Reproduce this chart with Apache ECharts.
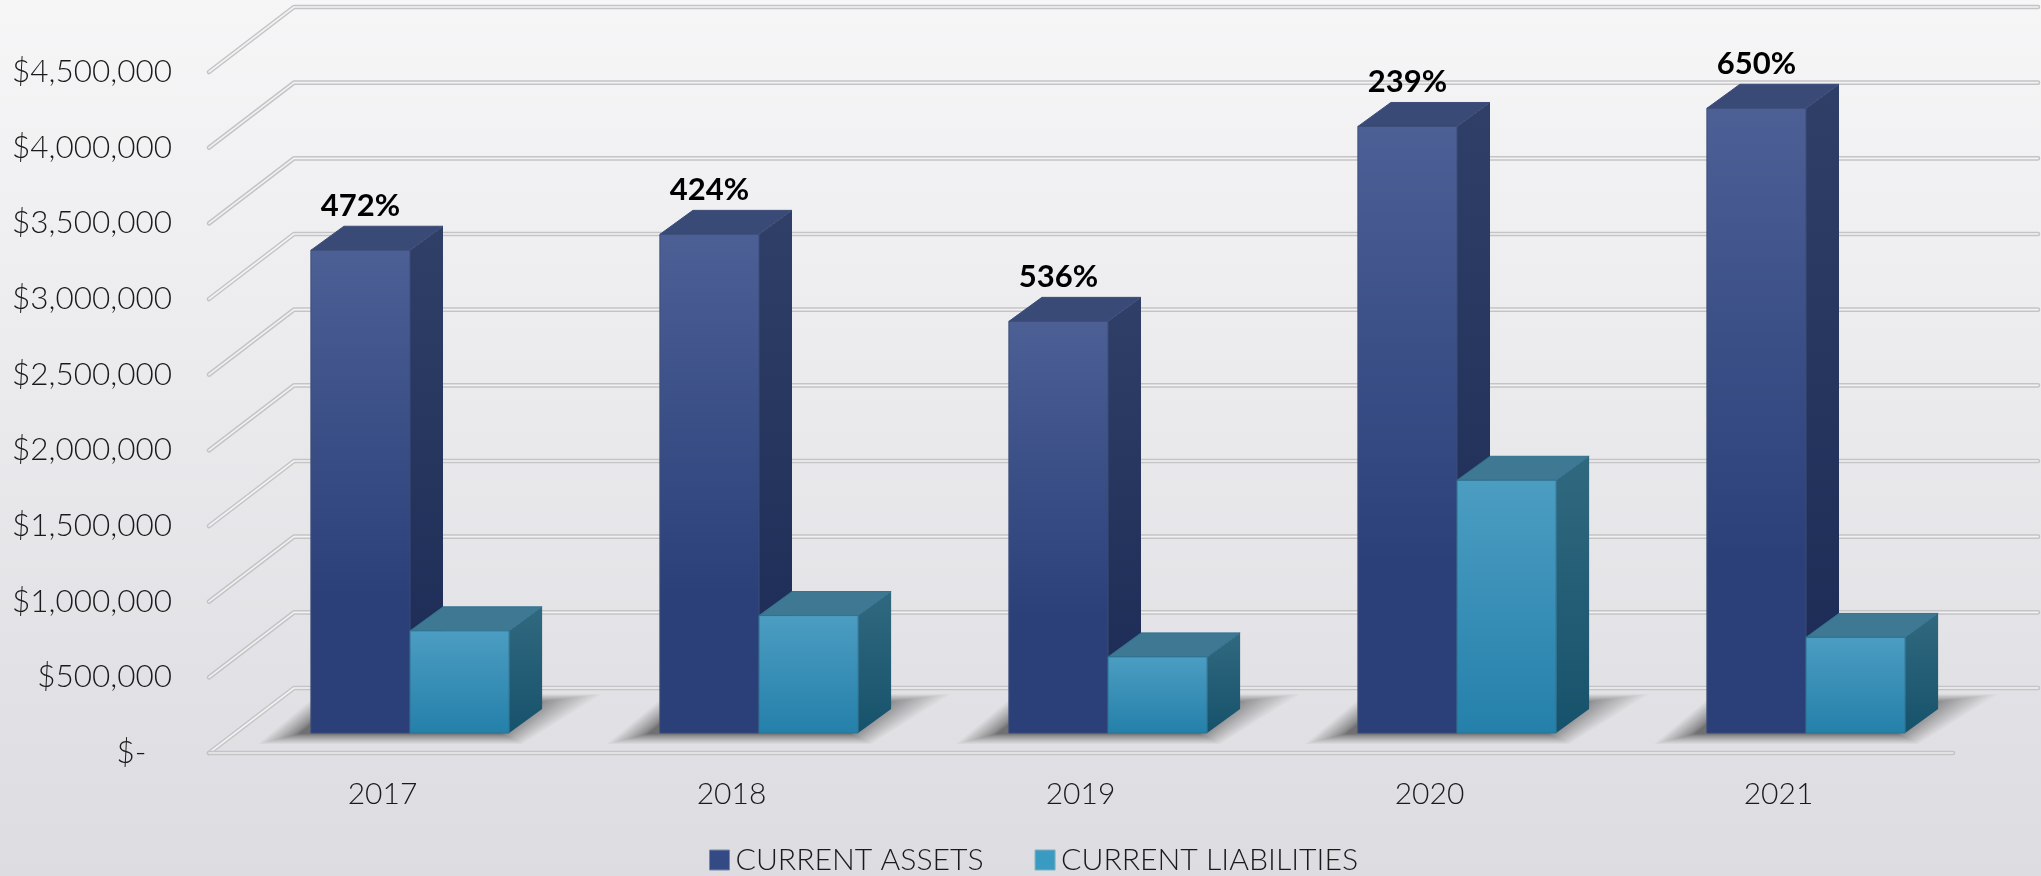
<!DOCTYPE html>
<html>
<head>
<meta charset="utf-8">
<title>Current assets and liabilities</title>
<script src="https://cdn.jsdelivr.net/npm/echarts@6/dist/echarts.min.js"></script>
<style>
  html, body { margin: 0; padding: 0; overflow: hidden; }
  #chart { width: 2041px; height: 876px; }
</style>
</head>
<body>
<div id="chart"></div>
<script>
const years = ['2017', '2018', '2019', '2020', '2021'];
const currentAssets = [3190000, 3295000, 2720000, 4008000, 4128000];
const currentLiabilities = [675000, 776000, 503000, 1670000, 632000];
const ratioLabels = ['472%', '424%', '536%', '239%', '650%'];
const gridTicks = [0, 500000, 1000000, 1500000, 2000000, 2500000, 3000000, 3500000, 4000000, 4500000];

const FONT = 'Lato';
const TEXT = '#1a1a1a';

// oblique projection, all in pixels
const WALL_DX = 86, WALL_DY = 65;   // floor depth
const BAR_DX = 33, BAR_DY = 24;     // bar depth
const BAR_SHIFT_X = 27.5, BAR_SHIFT_Y = 20; // front of bars vs front of floor
const BAR_BAND = 0.284;             // one bar as share of a category
const SHADOW_STEPS = 36;

const vert = (a, b) => ({ type: 'linear', x: 0, y: 0, x2: 0, y2: 1, colorStops: [{ offset: 0, color: a }, { offset: 1, color: b }] });
const vertMid = (a, b, mid) => ({ type: 'linear', x: 0, y: 0, x2: 0, y2: 1, colorStops: [{ offset: 0, color: a }, { offset: mid, color: b }, { offset: 1, color: b }] });

const assetColors = {
  front: vertMid('#4c6096', '#2b3f79', 0.72),
  side: vert('#2f3f67', '#1b2a54'),
  top: '#3a4a76',
  edge: '#3d4d78'
};
const liabilityColors = {
  front: vert('#4c9dc2', '#2480aa'),
  side: vert('#30697f', '#17526c'),
  top: '#3f7893',
  edge: '#2f7290'
};

function poly(points, fill, z2, stroke) {
  return {
    type: 'polygon',
    z2: z2,
    shape: { points: points },
    style: { fill: fill, stroke: stroke || null, lineWidth: stroke ? 1 : 0 }
  };
}

// one 3D box. slot 0 = left bar of the category, slot 1 = right bar
function renderBar(slot, colors, labels) {
  return function (params, api) {
    const idx = api.value(0);
    const top = api.coord([idx, api.value(1)]);
    const base = api.coord([idx, 0]);
    const w = api.size([1, 0])[0] * BAR_BAND;
    const x0 = base[0] + BAR_SHIFT_X - w + slot * w;
    const x1 = x0 + w;
    const yT = top[1] - BAR_SHIFT_Y;
    const yB = base[1] - BAR_SHIFT_Y;
    const children = [
      poly([[x1, yT], [x1 + BAR_DX, yT - BAR_DY], [x1 + BAR_DX, yB - BAR_DY], [x1, yB]], colors.side, 1),
      poly([[x0, yT], [x0 + BAR_DX, yT - BAR_DY], [x1 + BAR_DX, yT - BAR_DY], [x1, yT]], colors.top, 2, colors.edge),
      poly([[x0, yT], [x1, yT], [x1, yB], [x0, yB]], colors.front, 3, colors.edge)
    ];
    if (labels) {
      children.push({
        type: 'text',
        z2: 5,
        x: (x0 + x1) / 2,
        y: yT - 44,
        style: {
          text: labels[idx],
          fill: '#000',
          font: '700 31px ' + FONT,
          align: 'center',
          verticalAlign: 'middle'
        }
      });
    }
    return { type: 'group', children: children };
  };
}

// soft floor shadow: many faint parallelograms, sparse at the rim and dense at the core
function renderShadow(params, api) {
  const base = api.coord([api.value(0), 0]);
  const cx = base[0] + BAR_SHIFT_X;
  const yB = base[1] - BAR_SHIFT_Y;
  const outer = [[-152, 11], [112, 11], [192, -39], [-92, -39]];
  const inner = [[-112, 1], [92, 1], [122, -30], [-74, -30]];
  const children = [];
  for (let k = 0; k < SHADOW_STEPS; k++) {
    const s = 1 - k / (SHADOW_STEPS - 1);
    const t = 1 - s * s;
    children.push({
      type: 'polygon',
      shape: {
        points: outer.map((p, i) => [
          cx + p[0] + (inner[i][0] - p[0]) * t,
          yB + p[1] + (inner[i][1] - p[1]) * t
        ])
      },
      style: { fill: 'rgba(74,74,76,0.036)' }
    });
  }
  return { type: 'group', children: children };
}

// the chart's gridlines are double: two grey rails with a pale gap
function gridStroke(points, light) {
  return [
    { type: 'polyline', shape: { points: points }, style: { fill: null, stroke: '#c4c4c6', lineWidth: 4.6, lineCap: 'round', lineJoin: 'round' } },
    { type: 'polyline', shape: { points: points }, style: { fill: null, stroke: light, lineWidth: 1.6, lineCap: 'round', lineJoin: 'round' } }
  ];
}

function renderGridLine(params, api) {
  const sys = params.coordSys;
  const y = api.coord([0, api.value(1)])[1];
  const backEnd = sys.x + sys.width + WALL_DX - 1;
  let children = gridStroke([[sys.x + 1, y], [sys.x + WALL_DX, y - WALL_DY], [backEnd, y - WALL_DY]], '#f2f2f3');
  if (api.value(1) === 0) {
    // front edge of the floor
    children = children.concat(gridStroke([[sys.x + 1, y], [sys.x + sys.width, y]], '#ececee'));
  }
  return { type: 'group', children: children };
}

function pairs(values) {
  return values.map((v, i) => [i, v]);
}

const chart = echarts.init(document.getElementById('chart'));
chart.setOption({
  animation: false,
  backgroundColor: vert('#f6f6f7', '#dcdce1'),
  textStyle: { fontFamily: FONT },
  grid: { left: 208, top: 72, width: 1745, height: 681 },
  legend: {
    left: 709,
    top: 845,
    padding: 0,
    itemWidth: 20,
    itemHeight: 20,
    itemGap: 51,
    textStyle: { fontFamily: FONT, fontWeight: 300, fontSize: 30.2, color: TEXT, padding: [0, 0, 0, 1] },
    data: [
      { name: 'CURRENT ASSETS', icon: 'rect', itemStyle: { color: '#334a85', borderColor: '#7c87a6', borderWidth: 1 } },
      { name: 'CURRENT LIABILITIES', icon: 'rect', itemStyle: { color: '#3a9bc2', borderColor: '#82aebf', borderWidth: 1 } }
    ]
  },
  xAxis: {
    type: 'category',
    data: years,
    axisLine: { show: false },
    axisTick: { show: false },
    axisLabel: { margin: 26, fontFamily: FONT, fontWeight: 300, fontSize: 30, color: TEXT }
  },
  yAxis: {
    type: 'value',
    min: 0,
    max: 4500000,
    interval: 500000,
    axisLine: { show: false },
    axisTick: { show: false },
    splitLine: { show: false },
    axisLabel: {
      margin: 36,
      fontFamily: FONT,
      fontWeight: 300,
      fontSize: 31.5,
      color: TEXT,
      padding: [7, 0, 0, 0],
      formatter: v => v === 0 ? '$-\u00a0\u00a0\u00a0' : '$' + v.toLocaleString('en-US')
    }
  },
  series: [
    { name: 'grid', type: 'custom', z: 1, silent: true, renderItem: renderGridLine, encode: { x: 0, y: 1 }, data: pairs(gridTicks).map(p => [0, p[1]]) },
    { name: 'shadow', type: 'custom', z: 2, silent: true, renderItem: renderShadow, encode: { x: 0, y: 1 }, data: pairs(currentAssets) },
    { name: 'CURRENT ASSETS', type: 'custom', z: 3, renderItem: renderBar(0, assetColors, ratioLabels), encode: { x: 0, y: 1 }, itemStyle: { color: '#334a85' }, data: pairs(currentAssets) },
    { name: 'CURRENT LIABILITIES', type: 'custom', z: 4, renderItem: renderBar(1, liabilityColors), encode: { x: 0, y: 1 }, itemStyle: { color: '#3a9bc2' }, data: pairs(currentLiabilities) }
  ]
});
window.addEventListener('resize', () => chart.resize());
</script>
</body>
</html>
